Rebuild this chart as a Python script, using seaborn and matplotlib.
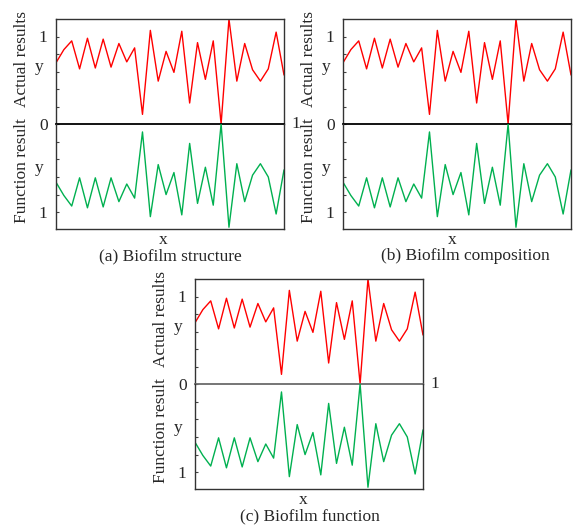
import numpy as np
import pandas as pd
import matplotlib
matplotlib.use("Agg")
import matplotlib.pyplot as plt
import seaborn as sns

sns.set_theme(style="white")
plt.rcParams['font.family'] = ['Liberation Serif', 'DejaVu Serif']

# ---- data ----
x_index = list(range(30))
actual_results = [0.70, 0.85, 0.95, 0.63, 0.98, 0.64, 0.97, 0.65, 0.92, 0.71,
                  0.87, 0.11, 1.07, 0.49, 0.83, 0.59, 1.06, 0.24, 0.93, 0.51,
                  0.95, 0.00, 1.20, 0.49, 0.92, 0.62, 0.49, 0.63, 1.05, 0.56]
function_result = [0.66, 0.81, 0.93, 0.61, 0.95, 0.61, 0.94, 0.61, 0.88, 0.68,
                   0.84, 0.09, 1.05, 0.46, 0.80, 0.55, 1.03, 0.22, 0.90, 0.49,
                   0.92, 0.00, 1.17, 0.45, 0.88, 0.58, 0.45, 0.60, 1.02, 0.52]
captions = ["(a) Biofilm structure", "(b) Biofilm composition", "(c) Biofilm function"]
y_ticks = [0, 0.2, 0.4, 0.6, 0.8, 1.0]

df = pd.DataFrame({"x": x_index, "actual": actual_results, "function": function_result})

W, H = 578, 526
fig = plt.figure(figsize=(W / 100, H / 100), dpi=100)
FS = 12.5
FRAME = "#333333"

# panel layout in pixels
panels = [
    dict(L=56, T=19, cap_dx=114, x_dx=107, right_one=True, mid="black"),
    dict(L=343, T=19, cap_dx=122, x_dx=109, right_one=False, mid="black"),
    dict(L=195, T=279, cap_dx=115, x_dx=108, right_one=True, mid="#6a6a6a"),
]
AW, AH = 228, 105


def fx(px):
    return px / W


def fy(py):
    return 1 - py / H


for p, cap in zip(panels, captions):
    L, T = p["L"], p["T"]
    M = T + AH
    B = M + AH
    ax_top = fig.add_axes([fx(L), fy(M), AW / W, AH / H])
    ax_bot = fig.add_axes([fx(L), fy(B), AW / W, AH / H])

    sns.lineplot(data=df, x="x", y="actual", ax=ax_top, color="#ff0000", lw=1.0)
    sns.lineplot(data=df, x="x", y="function", ax=ax_bot, color="#00b050", lw=1.0)

    for ax in (ax_top, ax_bot):
        ax.set_xlim(0, 29)
        ax.set_xlabel("")
        ax.set_ylabel("")
        ax.set_xticks([])
        for s in ax.spines.values():
            s.set_color(FRAME)
            s.set_linewidth(1.0)
            s.set_visible(True)
        ax.tick_params(axis="y", direction="in", length=2.5, width=0.8,
                       color="#444444", labelsize=FS, pad=6, right=False, left=True)
        ax.set_facecolor("none")

    ax_top.set_ylim(0, 1.2)
    ax_top.set_yticks(y_ticks)
    ax_top.set_yticklabels(["0", "", "", "", "", "1"])
    ax_top.spines["bottom"].set_color(p["mid"])
    ax_top.spines["bottom"].set_linewidth(1.3)

    ax_bot.set_ylim(1.19, 0)
    ax_bot.set_yticks(y_ticks[1:])
    ax_bot.set_yticklabels(["", "", "", "", "1"])
    ax_bot.spines["top"].set_visible(False)

    # side labels
    fig.text(fx(L - 34), fy(T + 40), "Actual results", rotation=90,
             ha="center", va="center", fontsize=FS)
    fig.text(fx(L - 34), fy(M + 47), "Function result", rotation=90,
             ha="center", va="center", fontsize=FS)
    fig.text(fx(L - 17), fy(T + 48), "y", ha="center", va="center", fontsize=FS)
    fig.text(fx(L - 17), fy(M + 44), "y", ha="center", va="center", fontsize=FS)
    if p["right_one"]:
        fig.text(fx(L + AW + 12), fy(M), "1", ha="center", va="center", fontsize=FS)
    fig.text(fx(L + p["x_dx"]), fy(B + 11), "x", ha="center", va="center", fontsize=FS)
    fig.text(fx(L + p["cap_dx"]), fy(B + 27), cap, ha="center", va="center", fontsize=FS)

fig.savefig("out.png", dpi=100)
